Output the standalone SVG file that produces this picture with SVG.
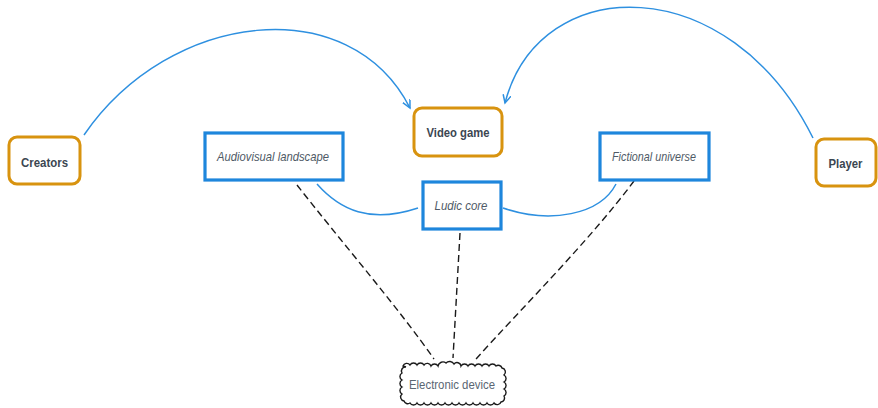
<svg xmlns="http://www.w3.org/2000/svg" width="878" height="408" viewBox="0 0 878 408">
<style>
.bg{fill:#ffffff}
.orange{fill:#ffffff;stroke:#D8930F;stroke-width:3}
.blue{fill:#ffffff;stroke:#1E86DC;stroke-width:3.2}
.lbl{font-family:"Liberation Sans",Arial,sans-serif;font-size:13px;fill:#3b4651;text-anchor:middle}
.bold{font-weight:bold}
.ital{font-style:italic;fill:#4f5a66}
.link{fill:none;stroke:#2E90E0;stroke-width:1.5}
.dash{fill:none;stroke:#1a1a1a;stroke-width:1.4;stroke-dasharray:7 4}
.cloud{fill:#ffffff;stroke:#1a1a1a;stroke-width:1.4}
</style>
<defs>
<marker id="arr" markerWidth="10" markerHeight="10" refX="8" refY="4" orient="auto" markerUnits="userSpaceOnUse">
<path d="M0,0 L8,4 L0,8" fill="none" stroke="#2E90E0" stroke-width="1.5"/>
</marker>
</defs>
<rect class="bg" x="0" y="0" width="878" height="408"/>
<g id="connectors">
<path class="link" d="M84,135 C170,10 350,-10 410,108" marker-end="url(#arr)"/>
<path class="link" d="M813,138 C730,-30 540,-30 505,103" marker-end="url(#arr)"/>
<path class="link" d="M317,184 C340,210 370,224 418,208"/>
<path class="link" d="M503,208 C550,224 600,215 616,184"/>
<path class="dash" d="M297,185 C340,240 400,310 434,359"/>
<path class="dash" d="M460,233 L453,358"/>
<path class="dash" d="M634,181 C590,240 520,310 476,359"/>
</g>
<g id="creators">
<rect class="orange" x="9" y="137" width="71" height="47" rx="8"/>
<text class="lbl bold" x="44.5" y="167" textLength="47" lengthAdjust="spacingAndGlyphs">Creators</text>
</g>
<g id="video-game">
<rect class="orange" x="414" y="108" width="88" height="48" rx="8"/>
<text class="lbl bold" x="458" y="137" textLength="63" lengthAdjust="spacingAndGlyphs">Video game</text>
</g>
<g id="player">
<rect class="orange" x="816" y="139" width="60" height="47" rx="8"/>
<text class="lbl bold" x="845.5" y="168" textLength="34" lengthAdjust="spacingAndGlyphs">Player</text>
</g>
<g id="audiovisual-landscape">
<rect class="blue" x="205" y="133" width="138" height="47"/>
<text class="lbl ital" x="273" y="161" textLength="112" lengthAdjust="spacingAndGlyphs">Audiovisual landscape</text>
</g>
<g id="ludic-core">
<rect class="blue" x="423" y="182" width="78" height="47"/>
<text class="lbl ital" x="461" y="210" textLength="53" lengthAdjust="spacingAndGlyphs">Ludic core</text>
</g>
<g id="fictional-universe">
<rect class="blue" x="600" y="133" width="109" height="47"/>
<text class="lbl ital" x="654" y="161" textLength="84" lengthAdjust="spacingAndGlyphs">Fictional universe</text>
</g>
<g id="electronic-device">
<path class="cloud" d="M403,366 a4,4 0 0,1 7,-1 a4,4 0 0,1 7,0 a4,4 0 0,1 7,0 a4,4 0 0,1 7,1 a4,4 0 0,1 7,0 a5,5 0 0,1 8,-3 a5,5 0 0,1 8,1 a4,4 0 0,1 7,2 a4,4 0 0,1 7,0 a4,4 0 0,1 7,0 a4,4 0 0,1 7,0 a4,4 0 0,1 7,0 a4,4 0 0,1 7,0 a4,4 0 0,1 6,2 a4,4 0 0,1 2,7 a4,4 0 0,1 0,7 a4,4 0 0,1 0,7 a4,4 0 0,1 0,7 a4,4 0 0,1 -3,6 a4,4 0 0,1 -7,1 a4,4 0 0,1 -7,0 a4,4 0 0,1 -7,0 a4,4 0 0,1 -7,0 a4,4 0 0,1 -7,0 a4,4 0 0,1 -7,0 a4,4 0 0,1 -7,0 a4,4 0 0,1 -7,0 a4,4 0 0,1 -7,0 a4,4 0 0,1 -7,0 a4,4 0 0,1 -7,0 a4,4 0 0,1 -7,0 a4,4 0 0,1 -7,0 a4,4 0 0,1 -6,-2 a4,4 0 0,1 -2,-7 a4,4 0 0,1 0,-7 a4,4 0 0,1 0,-7 a4,4 0 0,1 0,-7 a4,4 0 0,1 4,-6 z"/>
<text class="lbl" x="452" y="389" fill="#5a6673" style="fill:#5a6673" textLength="86" lengthAdjust="spacingAndGlyphs">Electronic device</text>
</g>
</svg>
